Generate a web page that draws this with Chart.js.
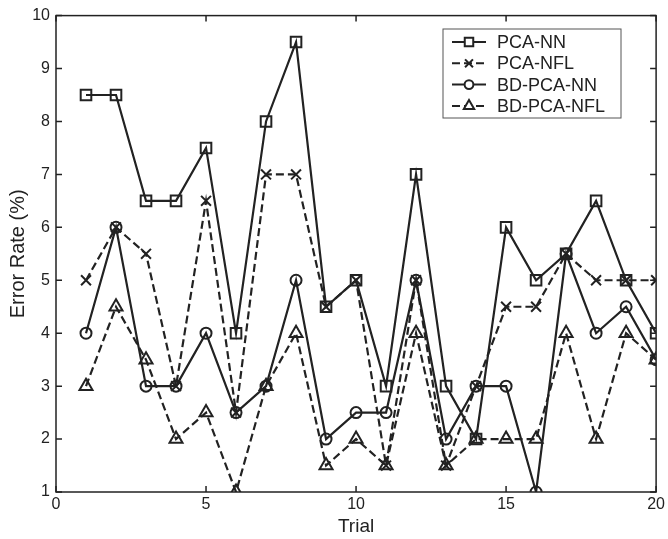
<!DOCTYPE html>
<html>
<head>
<meta charset="utf-8">
<script src="https://cdn.jsdelivr.net/npm/chart.js@4.4.1/dist/chart.umd.min.js"></script>
<style>
  html, body { margin: 0; padding: 0; background: #fff; }
  #wrap { width: 668px; height: 539px; }
</style>
</head>
<body>
<div id="wrap"><canvas id="chart" width="668" height="539"></canvas></div>
<script>
// trial numbers and error rates (%)
const trials = [1, 2, 3, 4, 5, 6, 7, 8, 9, 10, 11, 12, 13, 14, 15, 16, 17, 18, 19, 20];
const pcaNN =     [8.5, 8.5, 6.5, 6.5, 7.5, 4, 8, 9.5, 4.5, 5, 3, 7, 3, 2, 6, 5, 5.5, 6.5, 5, 4];
const pcaNFL =    [5, 6, 5.5, 3, 6.5, 2.5, 7, 7, 4.5, 5, 1.5, 5, 1.5, 3, 4.5, 4.5, 5.5, 5, 5, 5];
const bdpcaNN =   [4, 6, 3, 3, 4, 2.5, 3, 5, 2, 2.5, 2.5, 5, 2, 3, 3, 1, 5.5, 4, 4.5, 3.5];
const bdpcaNFL =  [3, 4.5, 3.5, 2, 2.5, 1, 3, 4, 1.5, 2, 1.5, 4, 1.5, 2, 2, 2, 4, 2, 4, 3.5];
const seriesNames = ['PCA-NN', 'PCA-NFL', 'BD-PCA-NN', 'BD-PCA-NFL'];
const xTicks = [0, 5, 10, 15, 20];
const yTicks = [1, 2, 3, 4, 5, 6, 7, 8, 9, 10];

const ink = '#222';
const font = 'Liberation Sans, Arial, Helvetica, sans-serif';
const dash = [8, 4];

function pts(vals) {
    return trials.map((t, i) => ({ x: t, y: vals[i] }));
}

function series(label, vals, style, radius, dashed) {
    return {
        label: label,
        data: pts(vals),
        borderColor: ink,
        borderWidth: 2.2,
        borderDash: dashed ? dash : [],
        pointStyle: style,
        pointRadius: radius,
        pointBorderWidth: 2,
        pointBorderColor: ink,
        pointBackgroundColor: 'rgba(0,0,0,0)',
        fill: false,
        tension: 0
    };
}

const datasets = [
    series(seriesNames[0], pcaNN, 'rect', 7.5, false),
    series(seriesNames[1], pcaNFL, 'crossRot', 7, true),
    series(seriesNames[2], bdpcaNN, 'circle', 5.5, false),
    series(seriesNames[3], bdpcaNFL, 'triangle', 7.5, true)
];

// matlab style box, inward ticks on all four sides and the boxed legend
const frame = {
    id: 'frame',
    afterDraw(chart) {
        const ctx = chart.ctx;
        const a = chart.chartArea;
        const xs = chart.scales.x, ys = chart.scales.y;
        ctx.save();
        ctx.strokeStyle = ink;
        ctx.lineWidth = 1.5;
        ctx.setLineDash([]);
        ctx.strokeRect(a.left, a.top, a.right - a.left, a.bottom - a.top);
        ctx.beginPath();
        xTicks.forEach(v => {
            const px = xs.getPixelForValue(v);
            ctx.moveTo(px, a.bottom); ctx.lineTo(px, a.bottom - 6);
            ctx.moveTo(px, a.top); ctx.lineTo(px, a.top + 6);
        });
        yTicks.forEach(v => {
            const py = ys.getPixelForValue(v);
            ctx.moveTo(a.left, py); ctx.lineTo(a.left + 6, py);
            ctx.moveTo(a.right, py); ctx.lineTo(a.right - 6, py);
        });
        ctx.stroke();

        // legend
        const lx = 443, ly = 29, lw = 178, lh = 89;
        ctx.fillStyle = '#fff';
        ctx.fillRect(lx, ly, lw, lh);
        ctx.strokeStyle = '#555';
        ctx.lineWidth = 1;
        ctx.strokeRect(lx, ly, lw, lh);
        ctx.font = '18px ' + font;
        ctx.textBaseline = 'middle';
        ctx.textAlign = 'left';
        datasets.forEach((ds, i) => {
            const y = ly + 13 + i * 21.3;
            ctx.strokeStyle = ink;
            ctx.lineWidth = 2;
            ctx.setLineDash(ds.borderDash);
            ctx.beginPath();
            ctx.moveTo(lx + 9, y); ctx.lineTo(lx + 43, y);
            ctx.stroke();
            ctx.setLineDash([]);
            ctx.fillStyle = '#fff';
            Chart.helpers.drawPoint(ctx, { pointStyle: ds.pointStyle, radius: ds.pointRadius * 0.8, borderWidth: 2 }, lx + 26, y);
            ctx.fillStyle = ink;
            ctx.fillText(ds.label, lx + 54, y + 1);
        });
        ctx.restore();
    }
};

new Chart(document.getElementById('chart'), {
    type: 'line',
    data: { datasets: datasets },
    options: {
        responsive: false,
        animation: false,
        layout: { padding: { top: 15, right: 9, left: 0, bottom: 0 } },
        plugins: {
            legend: { display: false },
            tooltip: { enabled: false }
        },
        scales: {
            x: {
                type: 'linear',
                min: 0,
                max: 20,
                afterFit: s => { s.height = 47; },
                afterBuildTicks: s => { s.ticks = xTicks.map(v => ({ value: v })); },
                grid: { display: false, drawTicks: false, tickLength: 0 },
                border: { display: false },
                ticks: { color: ink, font: { family: font, size: 16 }, padding: 3, maxRotation: 0 },
                title: { display: true, text: 'Trial', color: ink, font: { family: font, size: 19 }, padding: { top: 0, bottom: 1 } }
            },
            y: {
                min: 1,
                max: 10,
                afterFit: s => { s.width = 56; },
                afterBuildTicks: s => { s.ticks = yTicks.map(v => ({ value: v })); },
                grid: { display: false, drawTicks: false, tickLength: 0 },
                border: { display: false },
                ticks: { color: ink, font: { family: font, size: 16 }, padding: 6 },
                title: { display: true, text: 'Error Rate (%)', color: ink, font: { family: font, size: 20 }, padding: { top: 6, bottom: 0 } }
            }
        }
    },
    plugins: [frame]
});
</script>
</body>
</html>
